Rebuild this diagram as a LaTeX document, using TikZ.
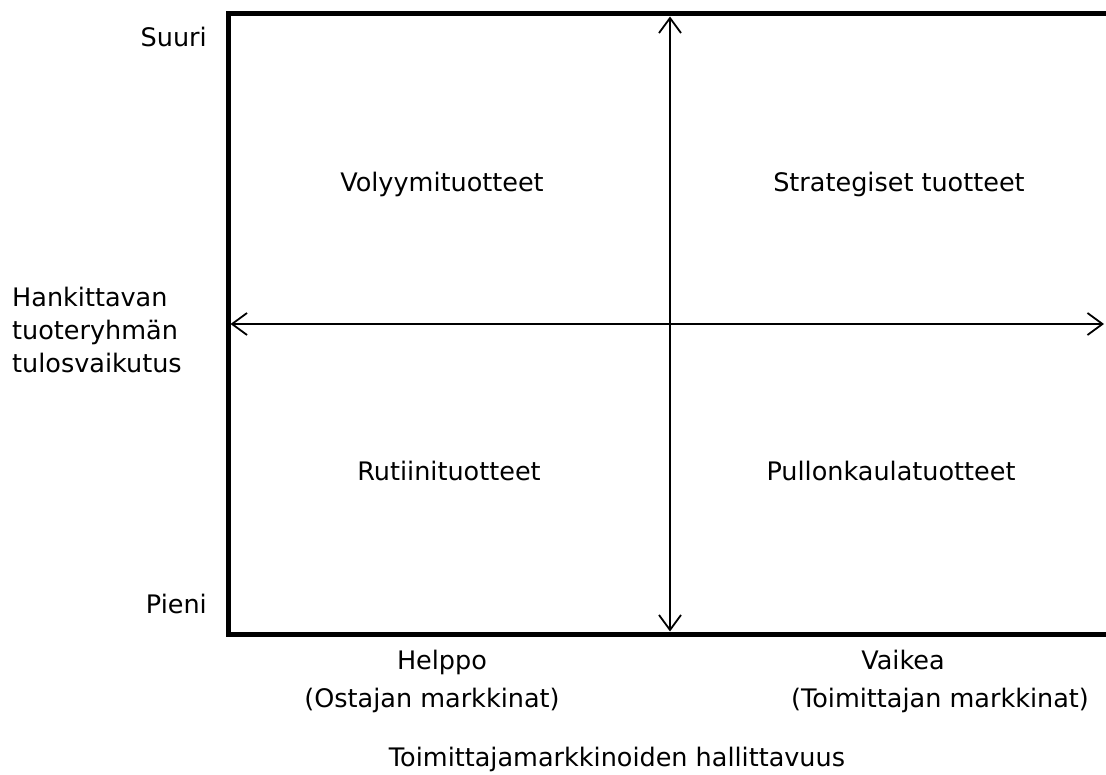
\documentclass[tikz,border=0pt]{standalone}
\usepackage{fontspec}
\setmainfont{DejaVu Sans}
\usetikzlibrary{arrows.meta}
\tikzset{
  frame/.style={line width=5pt, line cap=rect},
  axis/.style={line width=1.8pt, {Straight Barb[length=15pt,width=22pt,line width=1.8pt]}-{Straight Barb[length=15pt,width=22pt,line width=1.8pt]}},
  lbl/.style={font=\fontsize{25.5}{30}\selectfont, inner sep=0pt, anchor=base}
}
\begin{document}
\begin{tikzpicture}[x=1pt,y=-1pt]
\useasboundingbox (0,0) rectangle (1106,775);
\coordinate (tl) at (228,14);
\coordinate (tr) at (1110,14);
\coordinate (bl) at (228,634);
\coordinate (br) at (1110,634);
\coordinate (vt) at (670,16.5);
\coordinate (vb) at (670,631.5);
\coordinate (hl) at (230.5,324);
\coordinate (hr) at (1104,324);
\draw[frame] (tr) -- (tl) -- (bl) -- (br);
\draw[axis] (vt) -- (vb);
\draw[axis, line width=1.4pt] (hl) -- (hr);
\node[lbl, anchor=base east] (suuri) at (207,47) {Suuri};
\node[lbl, anchor=base east] (pieni) at (207,613) {Pieni};
\node[lbl, anchor=base west] (hank) at (12,307) {Hankittavan};
\node[lbl, anchor=base west] (tuot) at (12,340) {tuoteryhmän};
\node[lbl, anchor=base west] (tulos) at (12,373) {tulosvaikutus};
\node[lbl] (vol) at (442,192) {Volyymituotteet};
\node[lbl] (str) at (899,192) {Strategiset tuotteet};
\node[lbl] (rut) at (449,480) {Rutiinituotteet};
\node[lbl] (pul) at (891,480) {Pullonkaulatuotteet};
\node[lbl] (help) at (442,669) {Helppo};
\node[lbl] (osta) at (432,707) {(Ostajan markkinat)};
\node[lbl] (vaik) at (903,669) {Vaikea};
\node[lbl] (toim) at (940,707) {(Toimittajan markkinat)};
\node[lbl] (hall) at (617,766) {Toimittajamarkkinoiden hallittavuus};
\end{tikzpicture}
\end{document}
